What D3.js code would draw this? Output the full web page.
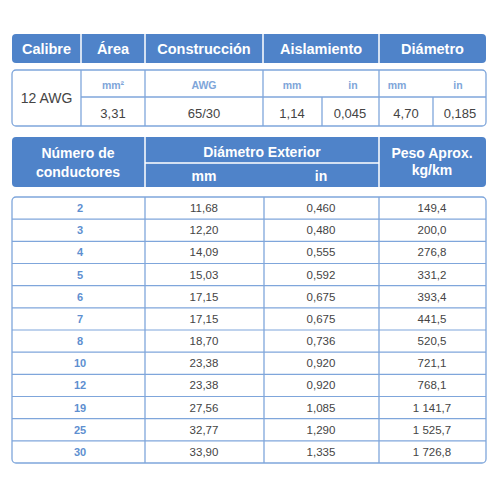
<!DOCTYPE html>
<html><head><meta charset="utf-8">
<script src="https://cdn.jsdelivr.net/npm/d3@7"></script>
<style>body{margin:0;background:#fff}text{font-family:"Liberation Sans",Arial,sans-serif}</style>
</head><body>
<svg id="c" width="500" height="500"></svg>
<script>
// valores de la tabla
const headers = ["Calibre", "Área", "Construcción", "Aislamiento", "Diámetro"];
const specUnits = ["mm²", "AWG", "mm", "in", "mm", "in"];
const specValues = ["3,31", "65/30", "1,14", "0,045", "4,70", "0,185"];
const conductores = ["2", "3", "4", "5", "6", "7", "8", "10", "12", "19", "25", "30"];
const diamMm = ["11,68", "12,20", "14,09", "15,03", "17,15", "17,15", "18,70", "23,38", "23,38", "27,56", "32,77", "33,90"];
const diamIn = ["0,460", "0,480", "0,555", "0,592", "0,675", "0,675", "0,736", "0,920", "0,920", "1,085", "1,290", "1,335"];
const peso = ["149,4", "200,0", "276,8", "331,2", "393,4", "441,5", "520,5", "721,1", "768,1", "1 141,7", "1 525,7", "1 726,8"];

const blue = "#4f83c9", line = "#7fa6db", dark = "#444";
const svg = d3.select("#c");
const L = 12, R = 486;

// banda 1
const xs1 = [L, 81, 145, 263, 379, R];
svg.append("rect").attr("x", L).attr("y", 34).attr("width", R - L).attr("height", 29).attr("rx", 4).attr("fill", blue);
xs1.slice(1, -1).forEach(x => svg.append("line").attr("x1", x).attr("x2", x).attr("y1", 34).attr("y2", 63).attr("stroke", "#fff").attr("stroke-width", 1.5));
headers.forEach((h, i) => svg.append("text").attr("x", (xs1[i] + xs1[i + 1]) / 2).attr("y", 54)
  .attr("text-anchor", "middle").attr("fill", "#fff").attr("font-weight", "bold").attr("font-size", 14.5).text(h));

// caja 2
svg.append("rect").attr("x", L).attr("y", 70).attr("width", R - L).attr("height", 56).attr("rx", 4).attr("fill", "#fff").attr("stroke", line).attr("stroke-width", 1.3);
svg.append("line").attr("x1", 81).attr("x2", R).attr("y1", 97).attr("y2", 97).attr("stroke", line).attr("stroke-width", 1.3);
[81, 145, 263, 379].forEach(x => svg.append("line").attr("x1", x).attr("x2", x).attr("y1", 70).attr("y2", 126).attr("stroke", line).attr("stroke-width", 1.3));
[322, 433].forEach(x => svg.append("line").attr("x1", x).attr("x2", x).attr("y1", 97).attr("y2", 126).attr("stroke", line).attr("stroke-width", 1.3));
svg.append("text").attr("x", 46.5).attr("y", 103).attr("text-anchor", "middle").attr("fill", dark).attr("font-size", 14).text("12 AWG");
const ux = [113, 204, 292, 353, 397, 458];
const vx = [113, 204, 292, 350, 406, 460];
specUnits.forEach((u, i) => svg.append("text").attr("x", ux[i]).attr("y", 89).attr("text-anchor", "middle")
  .attr("fill", "#7ea5d9").attr("font-weight", "bold").attr("font-size", 10.5).text(u));
specValues.forEach((v, i) => svg.append("text").attr("x", vx[i]).attr("y", 118).attr("text-anchor", "middle")
  .attr("fill", dark).attr("font-size", 13).text(v));

// banda 3
svg.append("rect").attr("x", L).attr("y", 137).attr("width", R - L).attr("height", 50).attr("rx", 4).attr("fill", blue);
[145, 379].forEach(x => svg.append("line").attr("x1", x).attr("x2", x).attr("y1", 137).attr("y2", 187).attr("stroke", "#fff").attr("stroke-width", 1.5));
svg.append("line").attr("x1", 145).attr("x2", 379).attr("y1", 163).attr("y2", 163).attr("stroke", "#fff").attr("stroke-width", 1.5);
const hdr = (x, y, t) => svg.append("text").attr("x", x).attr("y", y).attr("text-anchor", "middle").attr("fill", "#fff").attr("font-weight", "bold").attr("font-size", 14).text(t);
hdr(78, 158, "Número de"); hdr(78, 177, "conductores");
hdr(262, 157, "Diámetro Exterior"); hdr(204, 181, "mm"); hdr(321, 181, "in");
hdr(432, 158, "Peso Aprox."); hdr(432, 175, "kg/km");

// tabla de datos
const y = d3.scaleBand().domain(conductores).range([197, 463]);
const cols = [L, 145, 264, 379, R];
svg.append("rect").attr("x", L).attr("y", 197).attr("width", R - L).attr("height", 266).attr("rx", 4).attr("fill", "#fff").attr("stroke", line).attr("stroke-width", 1.3);
cols.slice(1, -1).forEach(x => svg.append("line").attr("x1", x).attr("x2", x).attr("y1", 197).attr("y2", 463).attr("stroke", line).attr("stroke-width", 1.3));
conductores.slice(1).forEach(c => svg.append("line").attr("x1", L).attr("x2", R).attr("y1", y(c)).attr("y2", y(c)).attr("stroke", line).attr("stroke-width", 1.2));
const rows = svg.append("g").selectAll("g").data(conductores).join("g").attr("transform", d => `translate(0,${y(d) + y.bandwidth() / 2 + 4})`);
rows.append("text").attr("x", 80).attr("text-anchor", "middle").attr("fill", "#5e8fd0").attr("font-weight", "bold").attr("font-size", 11).text(d => d);
rows.append("text").attr("x", 204).attr("text-anchor", "middle").attr("fill", dark).attr("font-size", 11.5).text((d, i) => diamMm[i]);
rows.append("text").attr("x", 321).attr("text-anchor", "middle").attr("fill", dark).attr("font-size", 11.5).text((d, i) => diamIn[i]);
rows.append("text").attr("x", 432).attr("text-anchor", "middle").attr("fill", dark).attr("font-size", 11.5).text((d, i) => peso[i]);
</script>
</body></html>
